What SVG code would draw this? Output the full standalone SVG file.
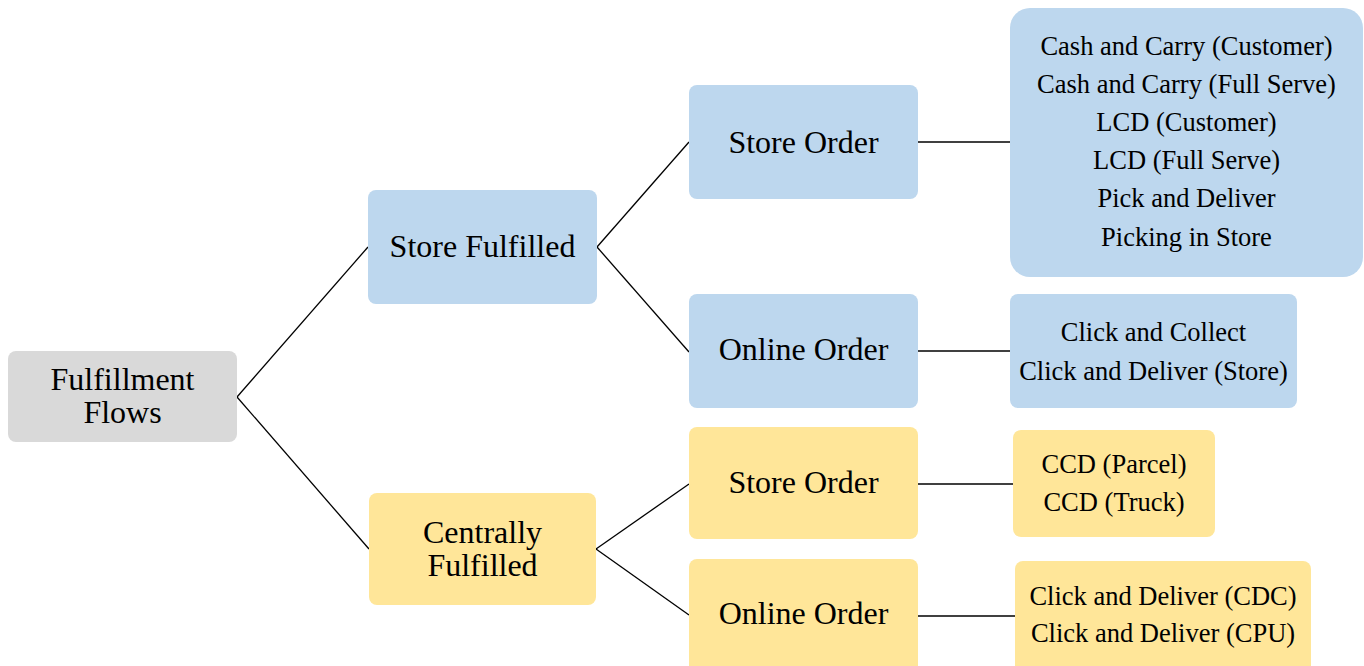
<svg xmlns="http://www.w3.org/2000/svg" width="1364" height="666" viewBox="0 0 1364 666">
<style>
.t{font-family:"Liberation Serif","Times New Roman",serif;fill:#000;text-anchor:middle}
.L{font-size:32px}
.S{font-size:26.5px}
.blue{fill:#bdd7ee}
.yel{fill:#ffe699}
.gray{fill:#d9d9d9}
.c{stroke:#000;stroke-width:1.3;fill:none}
</style>
<rect width="1364" height="666" fill="#fff"/>
<g id="connectors">
<line class="c" x1="237" y1="397" x2="368" y2="247"/>
<line class="c" x1="237" y1="397" x2="369" y2="549"/>
<line class="c" x1="597" y1="247" x2="689" y2="142"/>
<line class="c" x1="597" y1="247" x2="689" y2="352"/>
<line class="c" x1="918" y1="142" x2="1010" y2="142"/>
<line class="c" x1="918" y1="351" x2="1010" y2="351"/>
<line class="c" x1="596" y1="549" x2="689" y2="484"/>
<line class="c" x1="596" y1="549" x2="689" y2="615"/>
<line class="c" x1="918" y1="484" x2="1013" y2="484"/>
<line class="c" x1="918" y1="616" x2="1015" y2="616"/>
</g>
<g id="root">
<rect class="gray" x="8" y="351" width="229" height="91" rx="8"/>
<text class="t L" x="122.5" y="390">Fulfillment</text>
<text class="t L" x="122.5" y="423">Flows</text>
</g>
<g id="store-fulfilled">
<rect class="blue" x="368" y="190" width="229" height="114" rx="8"/>
<text class="t L" x="482.5" y="257">Store Fulfilled</text>
</g>
<g id="centrally-fulfilled">
<rect class="yel" x="369" y="493" width="227" height="112" rx="8"/>
<text class="t L" x="482.5" y="543">Centrally</text>
<text class="t L" x="482.5" y="576">Fulfilled</text>
</g>
<g id="sf-store-order">
<rect class="blue" x="689" y="85" width="229" height="114" rx="8"/>
<text class="t L" x="803.5" y="153">Store Order</text>
</g>
<g id="sf-online-order">
<rect class="blue" x="689" y="294" width="229" height="114" rx="8"/>
<text class="t L" x="803.5" y="360">Online Order</text>
</g>
<g id="cf-store-order">
<rect class="yel" x="689" y="427" width="229" height="112" rx="8"/>
<text class="t L" x="803.5" y="493">Store Order</text>
</g>
<g id="cf-online-order">
<rect class="yel" x="689" y="559" width="229" height="114" rx="8"/>
<text class="t L" x="803.5" y="624">Online Order</text>
</g>
<g id="sf-store-types">
<rect class="blue" x="1010" y="8" width="353" height="269" rx="20"/>
<text class="t S" x="1186.5" y="55">Cash and Carry (Customer)</text>
<text class="t S" x="1186.5" y="93">Cash and Carry (Full Serve)</text>
<text class="t S" x="1186.5" y="131">LCD (Customer)</text>
<text class="t S" x="1186.5" y="169">LCD (Full Serve)</text>
<text class="t S" x="1186.5" y="207">Pick and Deliver</text>
<text class="t S" x="1186.5" y="246">Picking in Store</text>
</g>
<g id="sf-online-types">
<rect class="blue" x="1010" y="294" width="287" height="114" rx="8"/>
<text class="t S" x="1153.5" y="341">Click and Collect</text>
<text class="t S" x="1153.5" y="380">Click and Deliver (Store)</text>
</g>
<g id="cf-store-types">
<rect class="yel" x="1013" y="430" width="202" height="107" rx="8"/>
<text class="t S" x="1114" y="473">CCD (Parcel)</text>
<text class="t S" x="1114" y="511">CCD (Truck)</text>
</g>
<g id="cf-online-types">
<rect class="yel" x="1015" y="561" width="296" height="112" rx="8"/>
<text class="t S" x="1163" y="605">Click and Deliver (CDC)</text>
<text class="t S" x="1163" y="642">Click and Deliver (CPU)</text>
</g>
</svg>
